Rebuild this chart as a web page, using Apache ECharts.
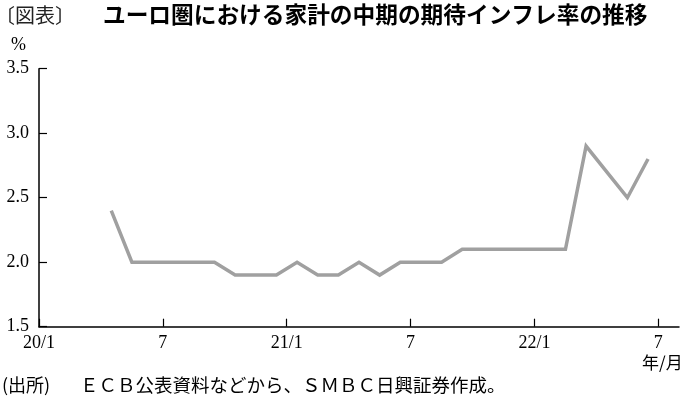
<!DOCTYPE html>
<html>
<head>
<meta charset="utf-8">
<script src="https://cdn.jsdelivr.net/npm/echarts@6/dist/echarts.min.js"></script>
<style>
html,body{margin:0;padding:0;background:#fff;}
#chart{width:684px;height:404px;}
</style>
</head>
<body>
<div id="chart"></div>
<script>
// Survey months (year-month) and median expected inflation 3 years ahead (%)
const months = ["2020-04","2020-05","2020-06","2020-07","2020-08","2020-09","2020-10","2020-11","2020-12",
  "2021-01","2021-02","2021-03","2021-04","2021-05","2021-06","2021-07","2021-08","2021-09","2021-10","2021-11","2021-12",
  "2022-01","2022-02","2022-03","2022-04","2022-05","2022-06"];
const values = [2.4,2.0,2.0,2.0,2.0,2.0,1.9,1.9,1.9,
  2.0,1.9,1.9,2.0,1.9,2.0,2.0,2.0,2.1,2.1,2.1,2.1,
  2.1,2.1,2.9,2.7,2.5,2.8];
const tickPositions = [0,6,12,18,24,30];   // months since 2020/1
const tickLabels = ["20/1","7","21/1","7","22/1","7"];
const yTicks = [1.5,2.0,2.5,3.0,3.5];

const titleText = "ユーロ圏における家計の中期の期待インフレ率の推移";
const figLabel = "〔図表〕";
const sourceHead = "(出所)";
const sourceText = "ＥＣＢ公表資料などから、ＳＭＢＣ日興証券作成。";

function monthIndex(s){
  const [y,m] = s.split("-").map(Number);
  return (y-2020)*12 + (m-1) + 0.5;
}
const seriesData = months.map((m,i)=>[monthIndex(m), values[i]]);

const serif = "'Liberation Serif','DejaVu Serif',serif";
const cjk = "'Noto Sans CJK JP','Noto Sans',sans-serif";

const chart = echarts.init(document.getElementById('chart'), null, {renderer:'canvas'});
chart.setOption({
  animation:false,
  backgroundColor:'#fff',
  grid:{left:39,right:5,top:68.7,bottom:77.3,containLabel:false},
  xAxis:{
    type:'value', min:0, max:31, interval:6,
    axisLine:{show:true,lineStyle:{color:'#000',width:1.5}},
    axisTick:{show:true,inside:true,length:8,lineStyle:{color:'#000',width:1.2},customValues:tickPositions},
    axisLabel:{
      customValues:tickPositions,
      formatter:function(v){const i=tickPositions.indexOf(Math.round(v));return i>=0?tickLabels[i]:'';},
      color:'#000',fontFamily:serif,fontSize:18,margin:8,showMinLabel:true,showMaxLabel:true
    },
    splitLine:{show:false}
  },
  yAxis:{
    type:'value', min:1.5, max:3.5, interval:0.5,
    axisLine:{show:true,lineStyle:{color:'#000',width:1.5}},
    axisTick:{show:true,inside:true,length:8,lineStyle:{color:'#000',width:1.2}},
    axisLabel:{formatter:function(v){return v.toFixed(1);},color:'#000',fontFamily:serif,fontSize:18,margin:10},
    splitLine:{show:false}
  },
  series:[{
    type:'line',
    data:seriesData,
    showSymbol:false,
    symbol:'none',
    lineStyle:{color:'#a0a0a0',width:3.5,join:'miter'},
    z:3
  }],
  graphic:[
    {type:'text',left:-5,top:5,style:{text:figLabel,font:"20px "+cjk,fill:'#222'}},
    {type:'text',left:103,top:3,style:{text:titleText,font:"bold 22.7px "+cjk,fill:'#000'}},
    {type:'text',left:11,top:36,style:{text:"%",font:"18px "+serif,fill:'#000'}},
    {type:'text',left:642,top:354,style:{text:"年/月",font:"17px "+cjk,fill:'#000'}},
    {type:'text',left:2,top:376,style:{text:sourceHead,font:"18px "+cjk,fill:'#000'}},
    {type:'text',left:80,top:376,style:{text:sourceText,font:"18.5px "+cjk,fill:'#000'}}
  ]
});
</script>
</body>
</html>
